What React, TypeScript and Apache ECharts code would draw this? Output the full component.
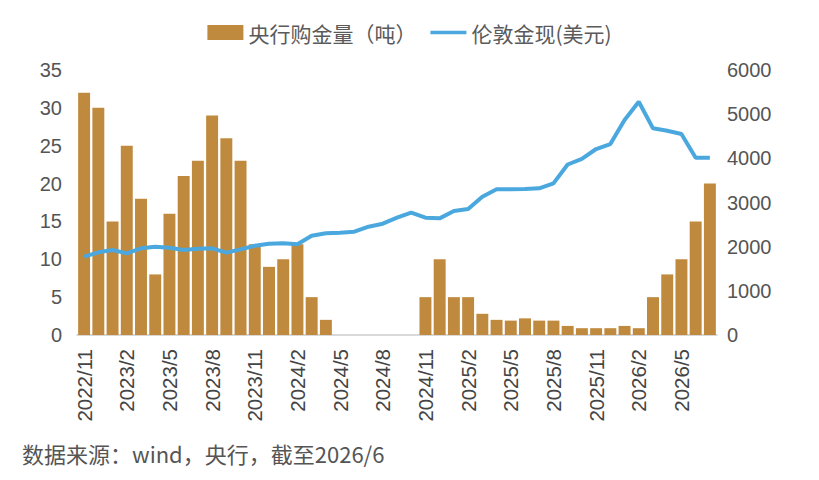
import React, { useEffect, useRef } from "react";
import * as echarts from "echarts";

// 月份（2022/11 - 2026/7）
const months = [
  "2022/11", "2022/12", "2023/1", "2023/2", "2023/3", "2023/4", "2023/5", "2023/6",
  "2023/7", "2023/8", "2023/9", "2023/10", "2023/11", "2023/12", "2024/1", "2024/2",
  "2024/3", "2024/4", "2024/5", "2024/6", "2024/7", "2024/8", "2024/9", "2024/10",
  "2024/11", "2024/12", "2025/1", "2025/2", "2025/3", "2025/4", "2025/5", "2025/6",
  "2025/7", "2025/8", "2025/9", "2025/10", "2025/11", "2025/12", "2026/1", "2026/2",
  "2026/3", "2026/4", "2026/5", "2026/6", "2026/7",
];

// 央行购金量（吨）
const goldTons = [
  32, 30, 15, 25, 18, 8, 16, 21, 23, 29, 26, 23, 12, 9, 10, 12,
  5, 2, 0, 0, 0, 0, 0, 0, 5, 10, 5, 5, 2.8, 2, 1.9, 2.2,
  1.9, 1.9, 1.2, 0.9, 0.9, 0.9, 1.2, 0.9, 5, 8, 10, 15, 20,
];

// 伦敦金现（美元）
const londonGold = [
  1773, 1872, 1924, 1849, 1962, 2000, 1977, 1924, 1955, 1962, 1864, 1939, 2022, 2067, 2075, 2053,
  2248, 2302, 2317, 2339, 2452, 2520, 2656, 2769, 2656, 2641, 2807, 2853, 3131, 3298, 3298, 3305,
  3320, 3434, 3860, 3990, 4211, 4324, 4868, 5282, 4679, 4626, 4551, 4015, 4015,
];

const leftTicks = { min: 0, max: 35, interval: 5 };
const rightTicks = { min: 0, max: 6000, interval: 1000 };

const BAR_COLOR = "#c08a3e";
const LINE_COLOR = "#4aa8df";

const App = () => {
  const ref = useRef<HTMLDivElement>(null);

  useEffect(() => {
    const chart = echarts.init(ref.current, null, { renderer: "svg" });
    chart.setOption({
      animation: false,
      backgroundColor: "#fff",
      legend: {
        top: 17,
        left: "center",
        itemWidth: 36,
        itemHeight: 15,
        itemGap: 14,
        textStyle: {
          fontFamily: "Noto Sans CJK SC",
          fontSize: 21,
          color: "#5a5a5a",
        },
        data: [
          { name: "央行购金量（吨）", icon: "rect" },
          // 图例只画一条线，不要圆点
          { name: "伦敦金现(美元)", icon: "path://M0,0 L40,0 L40,4 L0,4 Z" },
        ],
      },
      grid: { left: 77, right: 102, top: 70, bottom: 145 },
      xAxis: {
        type: "category",
        data: months,
        axisLine: { lineStyle: { color: "#ccc", width: 1.5 } },
        axisTick: { interval: 2, length: 7, lineStyle: { color: "#ccc", width: 1.5 } },
        axisLabel: {
          interval: 2,
          rotate: 90,
          margin: 14,
          fontSize: 20.5,
          color: "#444",
          fontFamily: "Liberation Sans",
        },
      },
      yAxis: [
        {
          type: "value",
          ...leftTicks,
          splitLine: { show: false },
          axisLine: { show: false },
          axisTick: { show: false },
          axisLabel: { fontSize: 20, color: "#555", margin: 15, fontFamily: "Liberation Sans" },
        },
        {
          type: "value",
          ...rightTicks,
          splitLine: { show: false },
          axisLine: { show: false },
          axisTick: { show: false },
          axisLabel: {
            fontSize: 20,
            color: "#555",
            margin: 10,
            fontFamily: "Liberation Sans",
            formatter: (v: number) => String(v),
          },
        },
      ],
      graphic: [
        {
          type: "text",
          left: 22,
          top: 442,
          style: {
            text: "数据来源：wind，央行，截至2026/6",
            fontFamily: "Noto Sans CJK SC",
            fontSize: 22,
            fill: "#555",
          },
        },
      ],
      series: [
        {
          name: "央行购金量（吨）",
          type: "bar",
          data: goldTons,
          barCategoryGap: "16%",
          itemStyle: { color: BAR_COLOR },
        },
        {
          name: "伦敦金现(美元)",
          type: "line",
          yAxisIndex: 1,
          data: londonGold,
          symbol: "none",
          lineStyle: { color: LINE_COLOR, width: 4 },
          itemStyle: { color: LINE_COLOR },
        },
      ],
    });
    return () => {
      chart.dispose();
    };
  }, []);

  return (
    <div
      ref={ref}
      style={{ position: "fixed", left: 0, top: 0, width: 819, height: 480 }}
    ></div>
  );
};

export default App;
